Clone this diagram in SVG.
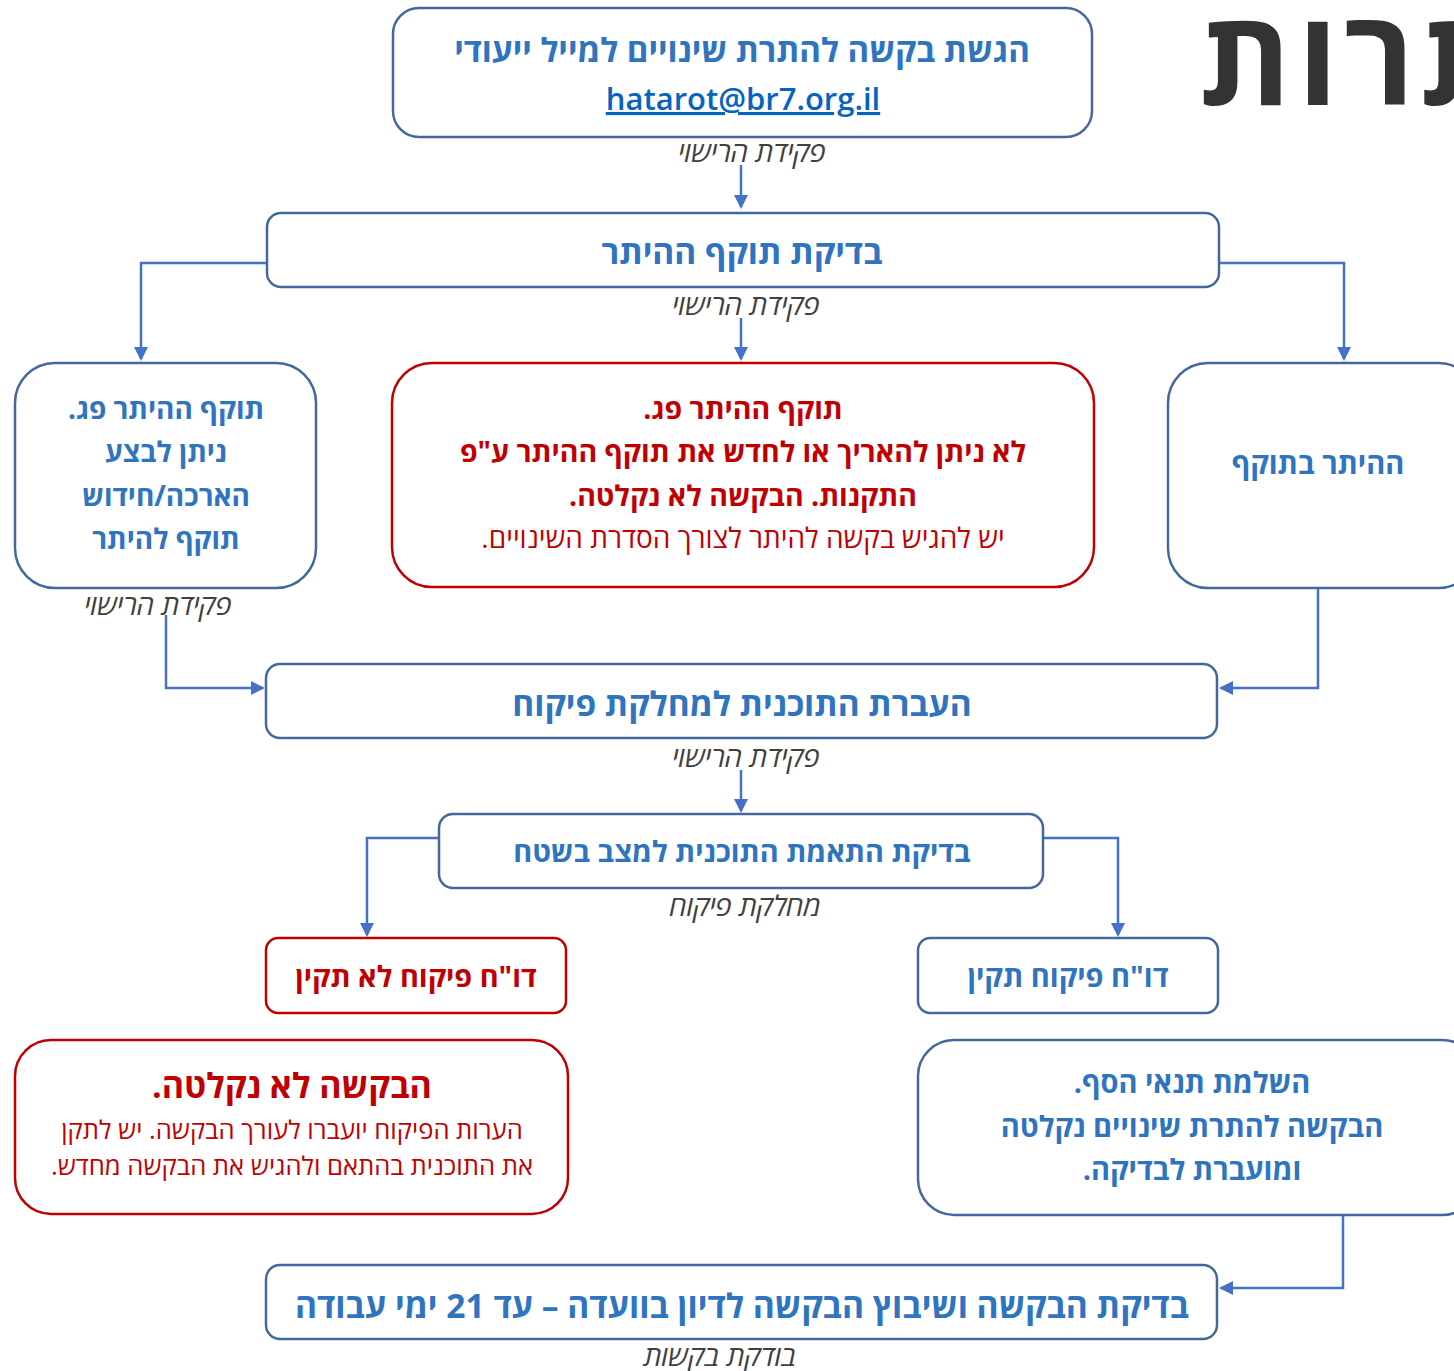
<svg xmlns="http://www.w3.org/2000/svg" width="1454" height="1371" viewBox="0 0 1454 1371">
<style>
.box{fill:#fff;stroke:#44679E;stroke-width:2.5}
.rbox{fill:#fff;stroke:#C00000;stroke-width:2.5}
.conn{fill:none;stroke:#4472C4;stroke-width:2.5}
text{font-family:"Open Sans","Liberation Sans","DejaVu Sans",sans-serif}
.t{fill:#2F74BF;font-weight:bold;text-anchor:middle;direction:rtl}
.r{fill:#C00000;font-weight:bold;text-anchor:middle;direction:rtl}
.rn{fill:#C00000;font-weight:normal;text-anchor:middle;direction:rtl}
.lbl{fill:#404040;font-style:italic;font-size:28px;text-anchor:middle;direction:rtl}
</style>
<defs>
<marker id="ah" markerWidth="14" markerHeight="14" refX="12" refY="7" orient="auto" markerUnits="userSpaceOnUse">
<path d="M0,0 L14,7 L0,14 z" fill="#4472C4"/>
</marker>
</defs>

<text x="1454" y="105" font-size="132" font-weight="bold" fill="#333333" direction="rtl" text-anchor="start" letter-spacing="6" dx="157">התרות</text>

<g id="connectors">
<path class="conn" d="M741,165 V207" marker-end="url(#ah)"/>
<path class="conn" d="M741,318 V359" marker-end="url(#ah)"/>
<path class="conn" d="M267,263 H141 V359" marker-end="url(#ah)"/>
<path class="conn" d="M1219,263 H1344 V359" marker-end="url(#ah)"/>
<path class="conn" d="M166,615 V688 H263" marker-end="url(#ah)"/>
<path class="conn" d="M1318,589 V688 H1221" marker-end="url(#ah)"/>
<path class="conn" d="M741,770 V811" marker-end="url(#ah)"/>
<path class="conn" d="M439,838 H367 V935" marker-end="url(#ah)"/>
<path class="conn" d="M1043,838 H1118 V935" marker-end="url(#ah)"/>
<path class="conn" d="M1343,1216 V1288 H1221" marker-end="url(#ah)"/>
</g>

<g id="n1">
<rect class="box" x="393" y="8" width="699" height="129" rx="26"/>
<text class="t" x="742" y="62" font-size="33">הגשת בקשה להתרת שינויים למייל ייעודי</text>
<text x="743" y="110" font-size="31" font-weight="600" fill="#0563C1" text-anchor="middle" text-decoration="underline">hatarot@br7.org.il</text>
</g>
<text class="lbl" x="752" y="162">פקידת הרישוי</text>

<g id="n2">
<rect class="box" x="267" y="213" width="952" height="74" rx="14"/>
<text class="t" x="742" y="264" font-size="33.5">בדיקת תוקף ההיתר</text>
</g>
<text class="lbl" x="746" y="315">פקידת הרישוי</text>

<g id="n3">
<rect class="box" x="15" y="363" width="301" height="225" rx="40"/>
<text class="t" x="166" y="419" font-size="28">תוקף ההיתר פג.</text>
<text class="t" x="166" y="462" font-size="28">ניתן לבצע</text>
<text class="t" x="166" y="506" font-size="28">הארכה/חידוש</text>
<text class="t" x="166" y="549" font-size="28">תוקף להיתר</text>
</g>
<text class="lbl" x="158" y="615">פקידת הרישוי</text>

<g id="n4">
<rect class="rbox" x="392" y="363" width="702" height="224" rx="40"/>
<text class="r" x="743" y="419" font-size="28.5">תוקף ההיתר פג.</text>
<text class="r" x="743" y="462" font-size="28.5">לא ניתן להאריך או לחדש את תוקף ההיתר ע"פ</text>
<text class="r" x="743" y="506" font-size="28.5">התקנות. הבקשה לא נקלטה.</text>
<text class="rn" x="743" y="548" font-size="28">יש להגיש בקשה להיתר לצורך הסדרת השינויים.</text>
</g>

<g id="n5">
<rect class="box" x="1168" y="363" width="310" height="225" rx="40"/>
<text class="t" x="1318" y="474" font-size="29">ההיתר בתוקף</text>
</g>

<g id="n6">
<rect class="box" x="266" y="664" width="951" height="74" rx="14"/>
<text class="t" x="742" y="716" font-size="33.4">העברת התוכנית למחלקת פיקוח</text>
</g>
<text class="lbl" x="746" y="767">פקידת הרישוי</text>

<g id="n7">
<rect class="box" x="439" y="814" width="604" height="74" rx="14"/>
<text class="t" x="742" y="862" font-size="28.8">בדיקת התאמת התוכנית למצב בשטח</text>
</g>
<text class="lbl" x="745" y="916">מחלקת פיקוח</text>

<g id="n8">
<rect class="rbox" x="266" y="938" width="300" height="75" rx="12"/>
<text class="r" x="416" y="987" font-size="28.8">דו"ח פיקוח לא תקין</text>
</g>

<g id="n9">
<rect class="box" x="918" y="938" width="300" height="75" rx="12"/>
<text class="t" x="1068" y="987" font-size="29">דו"ח פיקוח תקין</text>
</g>

<g id="n10">
<rect class="rbox" x="15" y="1040" width="553" height="174" rx="36"/>
<text class="r" x="292" y="1098" font-size="34">הבקשה לא נקלטה.</text>
<text class="rn" x="292" y="1139" font-size="25.6">הערות הפיקוח יועברו לעורך הבקשה. יש לתקן</text>
<text class="rn" x="292" y="1175" font-size="25.6">את התוכנית בהתאם ולהגיש את הבקשה מחדש.</text>
</g>

<g id="n11">
<rect class="box" x="918" y="1040" width="560" height="175" rx="36"/>
<text class="t" x="1192" y="1093" font-size="29">השלמת תנאי הסף.</text>
<text class="t" x="1192" y="1137" font-size="29">הבקשה להתרת שינויים נקלטה</text>
<text class="t" x="1192" y="1180" font-size="29">ומועברת לבדיקה.</text>
</g>

<g id="n12">
<rect class="box" x="266" y="1265" width="951" height="74" rx="14"/>
<text class="t" x="742" y="1318" font-size="33.6">בדיקת הבקשה ושיבוץ הבקשה לדיון בוועדה – עד 21 ימי עבודה</text>
</g>
<text class="lbl" x="720" y="1366">בודקת בקשות</text>
</svg>
